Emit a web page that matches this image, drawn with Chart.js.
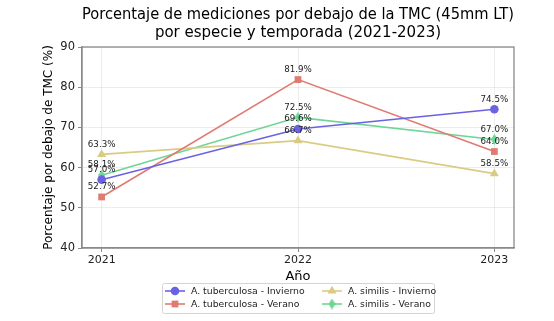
<!DOCTYPE html>
<html><head><meta charset="utf-8">
<script src="https://cdn.jsdelivr.net/npm/chart.js@4"></script>
<style>html,body{margin:0;padding:0;background:#fff;}#wrap{width:554px;height:321px;}</style>
</head><body><div id="wrap"><canvas id="c" width="554" height="321"></canvas></div>
<script>
const years = [2021, 2022, 2023];
const tubInvierno = [57.0, 69.6, 74.5];
const tubVerano = [52.7, 81.9, 64.0];
const simInvierno = [63.3, 66.7, 58.5];
const simVerano = [58.1, 72.5, 67.0];
const yTicks = [40, 50, 60, 70, 80, 90];
const FONT = "'DejaVu Sans', sans-serif";

function thinDiamond(color, w, h) {
  const c = document.createElement('canvas');
  c.width = w; c.height = h;
  const g = c.getContext('2d');
  g.fillStyle = color;
  g.beginPath();
  g.moveTo(w/2, 0); g.lineTo(w, h/2); g.lineTo(w/2, h); g.lineTo(0, h/2); g.closePath();
  g.fill();
  return c;
}
const cBlue = '#6b61e3', cRed = '#df7b72', cKhaki = '#dacb84', cGreen = '#6fd596';
const mk = (vals) => vals.map((v, i) => ({x: years[i], y: v}));

const series = [
  {label: 'A. tuberculosa - Invierno', data: mk(tubInvierno), borderColor: cBlue, backgroundColor: cBlue, pointStyle: 'circle', pointRadius: 4.3},
  {label: 'A. tuberculosa - Verano', data: mk(tubVerano), borderColor: cRed, backgroundColor: cRed, pointStyle: 'rect', pointRadius: 4.8},
  {label: 'A. similis - Invierno', data: mk(simInvierno), borderColor: cKhaki, backgroundColor: cKhaki, pointStyle: 'triangle', pointRadius: 5.2},
  {label: 'A. similis - Verano', data: mk(simVerano), borderColor: cGreen, backgroundColor: cGreen, pointStyle: thinDiamond(cGreen, 7, 11), pointRadius: 5}
];
series.forEach(s => { s.borderWidth = 1.6; s.pointBorderWidth = 0; s.tension = 0; s.fill = false; });

const frame = {
  id: 'frame',
  afterDraw(chart) {
    const a = chart.chartArea, g = chart.ctx;
    g.save();
    g.strokeStyle = '#8a8a8a'; g.lineWidth = 1.3;
    g.strokeRect(a.left, a.top, a.right - a.left, a.bottom - a.top);
    g.restore();
  }
};
const labelsPlugin = {
  id: 'vals',
  afterDatasetsDraw(chart) {
    const g = chart.ctx;
    g.save();
    g.font = '8.7px ' + FONT; g.fillStyle = '#222'; g.textAlign = 'center'; g.textBaseline = 'middle';
    chart.data.datasets.forEach((ds, di) => {
      chart.getDatasetMeta(di).data.forEach((p, i) => {
        g.fillText(ds.data[i].y.toFixed(1) + '%', p.x, p.y - 10);
      });
    });
    g.restore();
  }
};
const legendPlugin = {
  id: 'mlegend',
  afterDraw(chart) {
    const g = chart.ctx;
    const bx = 162, by = 283, bw = 272, bh = 30;
    g.save();
    g.fillStyle = 'rgba(255,255,255,0.9)'; g.strokeStyle = '#d4d4d4'; g.lineWidth = 1;
    g.beginPath(); g.roundRect(bx + 0.5, by + 0.5, bw, bh, 2); g.fill(); g.stroke();
    const order = [[0, 0, 0], [1, 0, 1], [2, 1, 0], [3, 1, 1]];
    g.font = '9.3px ' + FONT; g.textBaseline = 'middle'; g.textAlign = 'left';
    order.forEach(([di, col, row]) => {
      const ds = chart.data.datasets[di];
      const x0 = col === 0 ? 165 : 322, y = by + 8 + row * 13;
      g.strokeStyle = ds.borderColor; g.lineWidth = 1.6;
      g.beginPath(); g.moveTo(x0, y); g.lineTo(x0 + 20, y); g.stroke();
      g.fillStyle = ds.backgroundColor;
      Chart.helpers.drawPoint(g, {pointStyle: ds.pointStyle, radius: ds.pointRadius, borderWidth: 0, rotation: 0}, x0 + 10, y);
      g.fillStyle = '#222';
      g.fillText(ds.label, x0 + 26, y + 0.5);
    });
    g.restore();
  }
};

new Chart(document.getElementById('c'), {
  type: 'line',
  data: {datasets: series},
  options: {
    responsive: false, animation: false, devicePixelRatio: 1,
    layout: {padding: {left: 0, right: 40, top: 0, bottom: 37}},
    plugins: {
      legend: {display: false}, tooltip: {enabled: false},
      title: {display: true, fullSize: false, text: ['Porcentaje de mediciones por debajo de la TMC (45mm LT)', 'por especie y temporada (2021-2023)'],
        color: '#000', font: {family: FONT, size: 15, weight: 'normal', lineHeight: 1.2}, padding: {top: 6, bottom: 5}}
    },
    scales: {
      x: {
        type: 'linear', min: 2020.9, max: 2023.1,
        afterBuildTicks: (s) => { s.ticks = years.map(v => ({value: v})); },
        afterFit: (s) => { s.height = 36; },
        ticks: {color: '#222', font: {family: FONT, size: 11}, padding: 2, callback: v => String(v)},
        grid: {color: 'rgba(0,0,0,0.07)', tickColor: '#8a8a8a', tickLength: 4},
        border: {color: '#8a8a8a', width: 1.3},
        title: {display: true, text: 'Año', color: '#000', font: {family: FONT, size: 13}, padding: {top: 2, bottom: 0}}
      },
      y: {
        min: 40, max: 90,
        afterBuildTicks: (s) => { s.ticks = yTicks.map(v => ({value: v})); },
        afterFit: (s) => { s.width = 82; },
        ticks: {color: '#222', font: {family: FONT, size: 11.5}, padding: 3},
        grid: {color: 'rgba(0,0,0,0.07)', tickColor: '#8a8a8a', tickLength: 4},
        border: {color: '#8a8a8a', width: 1.3},
        title: {display: true, text: 'Porcentaje por debajo de TMC (%)', color: '#000', font: {family: FONT, size: 12}, padding: {top: 42, bottom: 4}}
      }
    }
  },
  plugins: [frame, labelsPlugin, legendPlugin]
});
</script></body></html>
